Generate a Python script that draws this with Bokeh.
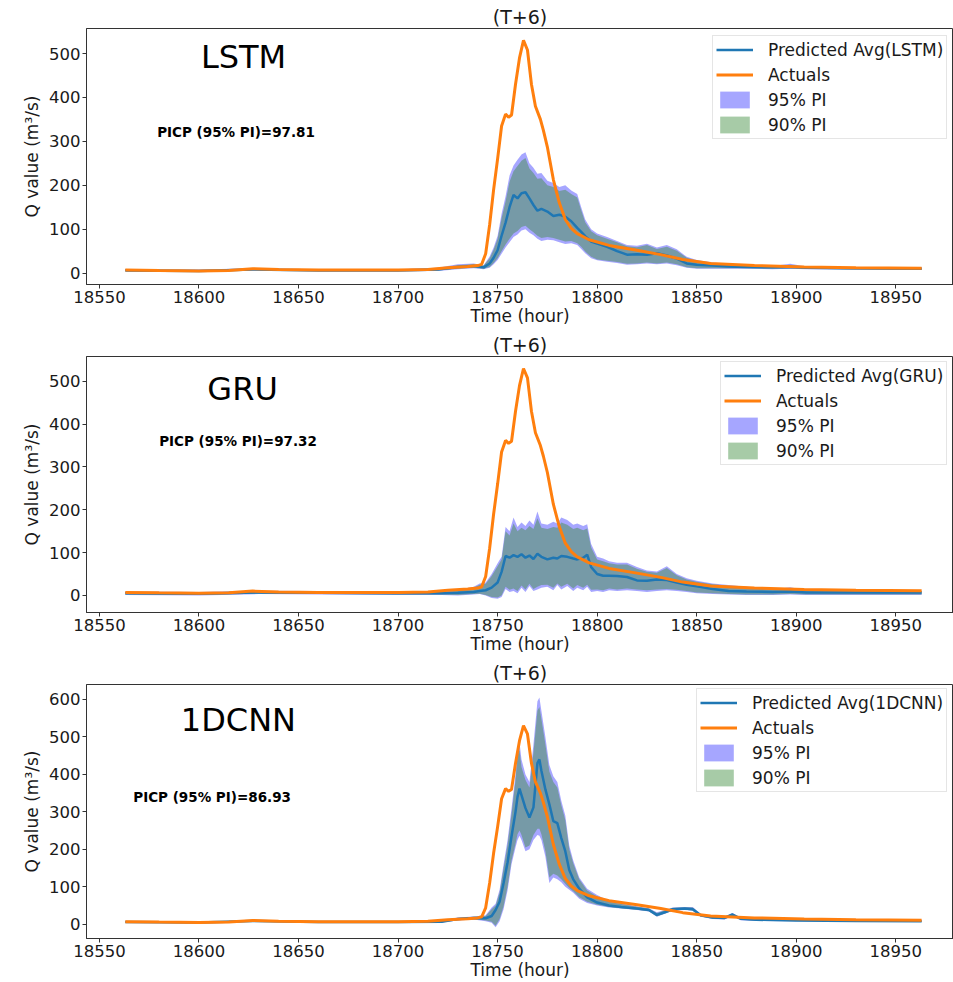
from bokeh.plotting import figure
from bokeh.layouts import column
from bokeh.models import Range1d, FixedTicker, Label, Legend, LegendItem
from bokeh.embed import file_html
from bokeh.resources import INLINE

# ---------------- data ----------------
x_ticks = [18550, 18600, 18650, 18700, 18750, 18800, 18850, 18900, 18950]

actual_t = [18563, 18580, 18600, 18615, 18627, 18640, 18660, 18680, 18700, 18715,
            18725, 18735, 18740, 18742, 18744, 18746, 18748, 18750, 18752, 18754,
            18755.5, 18757, 18759, 18761, 18763, 18765, 18767, 18769, 18771.5, 18773,
            18775, 18778, 18781, 18784, 18787, 18790, 18796, 18806, 18820, 18832,
            18843, 18857, 18879, 18904, 18930, 18963]
actual_q = [7, 6, 5, 6, 10, 8, 7, 7, 7, 8,
            12, 15, 17, 20, 44, 110, 190, 260, 335, 362,
            355, 360, 430, 490, 530, 508, 430, 380, 350, 325,
            287, 213, 160, 122, 102, 90, 76, 63, 52, 42,
            31, 22, 17, 14, 12, 11]

lstm_t = [18563, 18600, 18627, 18660, 18700, 18720, 18730, 18738, 18743, 18746,
          18748, 18750, 18752, 18754, 18756, 18758, 18760, 18762, 18764, 18766,
          18768, 18770, 18772, 18775, 18778, 18781, 18784, 18787, 18790, 18792,
          18794, 18797, 18800, 18805, 18810, 18815, 18820, 18825, 18830, 18835,
          18840, 18845, 18850, 18858, 18866, 18875, 18888, 18897, 18905, 18925, 18963]
lstm_mean = [6, 5, 8, 6, 6, 8, 14, 16, 13, 22,
             35, 52, 85, 115, 150, 178, 170, 182, 184, 170,
             155, 142, 146, 140, 130, 133, 128, 118, 103, 94,
             84, 72, 67, 60, 50, 42, 43, 42, 45, 40,
             33, 22, 19, 17, 15, 14, 13, 14, 12, 11, 10]
lstm_lo95 = [4, 3, 6, 4, 4, 5, 9, 11, 9, 12,
             20, 30, 44, 58, 70, 82, 88, 97, 100, 92,
             86, 78, 73, 76, 75, 70, 66, 68, 64, 55,
             45, 34, 29, 26, 23, 19, 20, 22, 20, 22,
             18, 12, 10, 10, 10, 10, 9, 10, 9, 8, 7]
lstm_hi95 = [9, 8, 11, 9, 9, 12, 20, 22, 18, 38,
             58, 85, 135, 175, 222, 245, 258, 270, 275, 250,
             240, 226, 228, 210, 205, 196, 200, 188, 180, 150,
             122, 100, 90, 82, 73, 64, 62, 67, 58, 64,
             54, 37, 30, 24, 20, 17, 16, 21, 15, 14, 13]
lstm_lo90 = [5, 4, 7, 5, 5, 6, 10, 12, 10, 14,
             23, 34, 50, 65, 78, 90, 96, 105, 108, 100,
             93, 85, 80, 82, 80, 76, 72, 73, 68, 60,
             49, 37, 31, 28, 25, 21, 22, 24, 22, 24,
             20, 13, 11, 11, 11, 11, 10, 11, 10, 9, 8]
lstm_hi90 = [8, 7, 10, 8, 8, 11, 18, 20, 17, 34,
             53, 78, 125, 163, 208, 232, 244, 256, 262, 238,
             228, 215, 216, 200, 196, 187, 190, 180, 172, 143,
             116, 95, 86, 78, 70, 61, 59, 64, 55, 60,
             51, 35, 28, 23, 19, 16, 15, 19, 14, 13, 12]

gru_t = [18563, 18600, 18630, 18660, 18700, 18722, 18730, 18738, 18741, 18744,
         18747, 18750, 18752, 18754, 18756, 18758, 18760, 18762, 18764, 18766,
         18768, 18770, 18772, 18775, 18778, 18780, 18782, 18785, 18788, 18790,
         18793, 18795, 18797, 18800, 18803, 18806, 18810, 18815, 18820, 18825,
         18830, 18835, 18840, 18845, 18850, 18858, 18866, 18875, 18888, 18897,
         18905, 18925, 18945, 18963]
gru_mean = [5, 4, 7, 6, 5, 5, 6, 8, 10, 12,
            18, 30, 55, 92, 88, 94, 90, 96, 88, 93,
            85, 97, 90, 84, 88, 86, 92, 90, 86, 84,
            88, 95, 66, 50, 46, 46, 45, 43, 35, 34,
            37, 36, 30, 25, 21, 15, 10, 9, 8, 9,
            7, 7, 7, 7]
gru_lo95 = [1, 0, 3, 2, 1, 1, 0, 2, 3, 0,
            -6, -8, -4, 15, 8, 10, 5, 18, 8, 22,
            10, 14, 18, 20, 12, 24, 14, 22, 10, 18,
            12, 20, 8, 10, 8, 12, 10, 12, 10, 8,
            10, 12, 10, 8, 5, 3, 2, 1, 1, 2,
            1, 1, 1, 1]
gru_hi95 = [9, 8, 11, 10, 9, 9, 12, 20, 28, 30,
            50, 75, 90, 160, 150, 182, 160, 170, 162, 175,
            165, 196, 168, 165, 172, 168, 182, 176, 165, 168,
            162, 166, 120, 90, 86, 80, 76, 76, 66, 58,
            56, 68, 50, 40, 34, 28, 24, 20, 14, 19,
            12, 11, 11, 11]
gru_lo90 = [2, 1, 4, 3, 2, 2, 1, 3, 4, 1,
            -4, -5, 0, 20, 13, 16, 10, 23, 14, 27,
            15, 20, 24, 25, 18, 28, 20, 27, 16, 24,
            18, 25, 13, 14, 12, 16, 14, 16, 14, 12,
            14, 15, 13, 10, 7, 5, 3, 2, 2, 3,
            2, 2, 2, 2]
gru_hi90 = [8, 7, 10, 9, 8, 8, 11, 18, 25, 27,
            45, 68, 84, 150, 140, 168, 150, 158, 152, 162,
            155, 180, 158, 155, 160, 158, 170, 165, 155, 158,
            152, 156, 112, 84, 80, 75, 72, 72, 62, 55,
            53, 64, 47, 37, 32, 26, 22, 18, 13, 17,
            11, 10, 10, 10]

cnn_t = [18563, 18600, 18627, 18660, 18700, 18722, 18730, 18738, 18744, 18747,
         18749, 18751, 18753, 18755, 18757, 18759, 18760, 18761, 18762, 18764,
         18766, 18768, 18770, 18771, 18772, 18774, 18776, 18778, 18780, 18782,
         18784, 18786, 18788, 18791, 18795, 18800, 18806, 18812, 18820, 18826,
         18830, 18834, 18838, 18844, 18848, 18852, 18858, 18864, 18868, 18872,
         18880, 18900, 18930, 18963]
cnn_mean = [6, 5, 9, 6, 6, 7, 14, 17, 16, 22,
            38, 60, 110, 165, 235, 300, 340, 362, 345, 310,
            285, 312, 430, 440, 410, 360, 320, 275, 270, 230,
            195, 145, 120, 95, 72, 58, 50, 46, 42, 38,
            25, 32, 40, 42, 40, 24, 18, 17, 26, 15,
            12, 10, 9, 8]
cnn_lo95 = [4, 3, 7, 4, 4, 5, 10, 13, 8, 4,
            -8, 8, 40, 90, 160, 205, 225, 236, 225, 195,
            200, 225, 238, 236, 225, 180, 110, 125, 120, 112,
            100, 92, 84, 68, 57, 50, 45, 42, 38, 34,
            20, 28, 36, 38, 36, 20, 14, 13, 22, 11,
            9, 8, 7, 6]
cnn_hi95 = [8, 7, 11, 8, 8, 10, 18, 21, 24, 45,
            55, 92, 160, 225, 310, 400, 470, 485, 440, 400,
            380, 480, 595, 605, 570, 500, 425, 395, 380, 330,
            290, 210, 170, 125, 95, 78, 62, 56, 48, 43,
            32, 38, 45, 46, 46, 28, 22, 21, 30, 18,
            15, 12, 11, 10]
cnn_lo90 = [5, 4, 8, 5, 5, 6, 11, 14, 10, 7,
            -4, 14, 48, 100, 170, 215, 240, 250, 238, 205,
            210, 238, 255, 255, 240, 195, 125, 135, 130, 120,
            108, 97, 88, 72, 60, 52, 46, 43, 39, 35,
            21, 29, 37, 39, 37, 21, 15, 14, 23, 12,
            10, 9, 8, 7]
cnn_hi90 = [7, 6, 10, 7, 7, 9, 17, 20, 22, 40,
            50, 85, 150, 212, 295, 385, 450, 465, 420, 385,
            365, 458, 570, 580, 548, 480, 408, 380, 365, 318,
            278, 200, 163, 120, 90, 74, 60, 54, 47, 42,
            30, 37, 44, 45, 45, 27, 21, 20, 29, 17,
            14, 11, 10, 9]

FONT = "DejaVu Sans"
TXT = "#1a1a1a"


def make_panel(name, picp, t, mean, lo95, hi95, lo90, hi90,
               ymin, ymax, yticks, height, border_bottom,
               name_xy, picp_xy, legend_xy):
    p = figure(width=953, height=height,
               x_range=Range1d(18543.5, 18979), y_range=Range1d(ymin, ymax),
               output_backend="svg", toolbar_location=None,
               min_border_left=86, min_border_right=0,
               min_border_top=28, min_border_bottom=border_bottom,
               background_fill_color="white", border_fill_color="white")
    p.grid.visible = False
    p.outline_line_color = "#333333"
    p.outline_line_width = 1

    # title
    p.title.text = "(T+6)"
    p.title.align = "center"
    p.title.text_font = FONT
    p.title.text_font_size = "19px"
    p.title.text_font_style = "normal"
    p.title.text_color = TXT
    p.title.standoff = 1
    p.title.offset = 5

    r95 = p.varea(x=t, y1=lo95, y2=hi95, fill_color="#0000ff", fill_alpha=0.35)
    r90 = p.varea(x=t, y1=lo90, y2=hi90, fill_color="#3c8c3c", fill_alpha=0.45)
    r_pred = p.line(t, mean, line_color="#1f77b4", line_width=2.5)
    r_act = p.line(actual_t, actual_q, line_color="#ff7f0e", line_width=3)

    legend = Legend(items=[
        LegendItem(label="Predicted Avg(" + name + ")", renderers=[r_pred]),
        LegendItem(label="Actuals", renderers=[r_act]),
        LegendItem(label="95% PI", renderers=[r95]),
        LegendItem(label="90% PI", renderers=[r90]),
    ], location=legend_xy)
    legend.label_text_font = FONT
    legend.label_text_font_size = "17px"
    legend.label_text_color = TXT
    legend.glyph_width = 37
    legend.glyph_height = 21
    legend.label_height = 21
    legend.label_standoff = 15
    legend.spacing = 4
    legend.padding = 3
    legend.margin = 0
    legend.border_line_color = "#cccccc"
    legend.border_line_width = 1
    legend.background_fill_alpha = 0.85
    p.add_layout(legend)

    # axes
    p.xaxis.ticker = FixedTicker(ticks=x_ticks)
    p.yaxis.ticker = FixedTicker(ticks=yticks)
    for ax in (p.xaxis, p.yaxis):
        ax.major_label_text_font = FONT
        ax.major_label_text_font_size = "16.5px"
        ax.major_label_text_color = TXT
        ax.axis_label_text_font = FONT
        ax.axis_label_text_font_size = "17px"
        ax.axis_label_text_font_style = "normal"
        ax.axis_label_text_color = TXT
        ax.minor_tick_line_color = None
        ax.major_tick_in = 0
        ax.major_tick_out = 4
        ax.major_tick_line_color = "#333333"
        ax.axis_line_color = "#333333"
        ax.major_label_standoff = 2
    p.xaxis.axis_label = "Time (hour)"
    p.xaxis.axis_label_standoff = 0
    p.yaxis.axis_label = "Q value (m³/s)"
    p.yaxis.axis_label_standoff = 4

    # model name
    p.add_layout(Label(x=name_xy[0], y=name_xy[1], text=name, text_font=FONT,
                       text_font_size="32px", text_color="black",
                       text_align="center", text_baseline="middle"))
    # PICP
    p.add_layout(Label(x=picp_xy[0], y=picp_xy[1], text="PICP (95% PI)=" + picp,
                       text_font=FONT, text_font_size="13.5px", text_font_style="bold",
                       text_color="black", text_align="center", text_baseline="middle"))
    return p


p1 = make_panel("LSTM", "97.81", lstm_t, lstm_mean, lstm_lo95, lstm_hi95, lstm_lo90, lstm_hi90,
                -26, 557, [0, 100, 200, 300, 400, 500], 328, 44,
                (18622.4, 492), (18618.6, 321), (626, 145))
p2 = make_panel("GRU", "97.32", gru_t, gru_mean, gru_lo95, gru_hi95, gru_lo90, gru_hi90,
                -40, 558, [0, 100, 200, 300, 400, 500], 328, 44,
                (18621.9, 482), (18619.6, 361), (634, 147))
p3 = make_panel("1DCNN", "86.93", cnn_t, cnn_mean, cnn_lo95, cnn_hi95, cnn_lo90, cnn_hi90,
                -38, 640, [0, 100, 200, 300, 400, 500, 600], 326, 42,
                (18619.8, 544), (18606.6, 340), (610, 146))

layout = column(p1, p2, p3, spacing=0)
open("out.html", "w").write(file_html(layout, INLINE))
